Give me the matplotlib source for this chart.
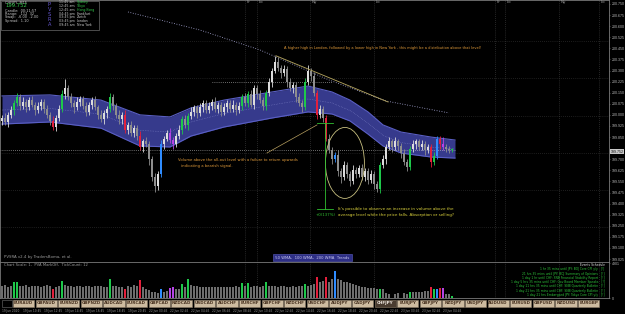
import matplotlib
matplotlib.use('Agg')
import matplotlib.pyplot as plt
from matplotlib.patches import Ellipse, Rectangle
import numpy as np

# ---------------- data ----------------
closes = [199.98, 199.95, 200.00, 200.03, 200.08, 200.12, 200.06, 200.09, 200.05, 200.10,
          200.07, 200.03, 200.06, 200.09, 200.04, 200.00, 199.96, 199.92, 199.98, 200.04,
          200.14, 200.18, 200.12, 200.08, 200.05, 200.09, 200.11, 200.06, 200.02, 200.07,
          200.10, 200.05, 200.00, 199.97, 200.01, 200.04, 200.12, 200.06, 200.00, 199.97,
          200.00, 199.90, 199.93, 199.88, 199.91, 199.86, 199.78, 199.82, 199.80, 199.70,
          199.58, 199.52, 199.60, 199.80, 199.84, 199.88, 199.83, 199.80, 199.86, 199.90,
          199.97, 199.93, 199.99, 200.02, 200.05, 200.01, 200.05, 200.08, 200.03, 200.06,
          200.09, 200.04, 200.07, 200.02, 200.05, 200.08, 200.04, 200.07, 200.03, 200.06,
          200.12, 200.08, 200.14, 200.07, 200.18, 200.14, 200.10, 200.06, 200.15, 200.22,
          200.30, 200.36, 200.32, 200.28, 200.31, 200.22, 200.18, 200.20, 200.12, 200.08,
          200.05, 200.22, 200.30, 200.26, 200.15, 200.00, 200.04, 199.98, 199.84, 199.76,
          199.70, 199.73, 199.62, 199.58, 199.66, 199.60, 199.55, 199.63, 199.60, 199.64,
          199.58, 199.62, 199.56, 199.60, 199.53, 199.50, 199.66, 199.70, 199.78, 199.82,
          199.78, 199.82, 199.79, 199.74, 199.68, 199.65, 199.77, 199.80, 199.82, 199.78,
          199.80, 199.76, 199.78, 199.68, 199.72, 199.84, 199.80, 199.78, 199.77, 199.76,
          199.765]
first_open = 199.96
upper_wick = [.02, .03, .02, .03, .02, .03, .02, .03, .02, .02,
              .03, .02, .03, .02, .02, .03, .02, .03, .02, .03,
              .03, .06, .02, .03, .02, .03, .02, .02, .03, .02,
              .02, .03, .02, .03, .02, .02, .03, .02, .02, .03,
              .02, .03, .02, .03, .02, .02, .03, .02, .03, .02,
              .02, .03, .02, .03, .02, .02, .03, .02, .02, .03,
              .02, .03, .02, .03, .02, .02, .03, .02, .02, .03,
              .02, .03, .02, .02, .03, .02, .02, .03, .02, .03,
              .02, .03, .02, .03, .02, .02, .03, .02, .02, .03,
              .02, .04, .03, .02, .03, .02, .03, .02, .02, .03,
              .02, .03, .04, .02, .03, .02, .03, .02, .02, .03,
              .02, .02, .03, .02, .03, .02, .02, .03, .02, .02,
              .03, .02, .02, .03, .02, .02, .02, .03, .02, .03,
              .02, .03, .02, .02, .03, .02, .02, .03, .02, .02,
              .03, .02, .02, .02, .03, .02, .02, .05, .02, .02,
              .01]
lower_wick = [.03, .02, .03, .02, .03, .02, .03, .02, .03, .02,
              .02, .03, .02, .03, .03, .02, .03, .02, .03, .02,
              .02, .03, .02, .03, .04, .02, .03, .02, .03, .02,
              .03, .02, .03, .02, .03, .03, .02, .03, .02, .03,
              .03, .02, .03, .02, .03, .03, .02, .03, .02, .04,
              .03, .04, .03, .02, .03, .02, .02, .03, .02, .02,
              .03, .02, .03, .02, .03, .03, .02, .03, .02, .02,
              .03, .02, .03, .03, .02, .03, .02, .02, .03, .02,
              .03, .02, .03, .02, .03, .03, .02, .03, .03, .02,
              .03, .02, .02, .03, .02, .03, .02, .03, .03, .02,
              .03, .02, .02, .03, .02, .03, .02, .03, .02, .02,
              .03, .02, .03, .04, .02, .03, .03, .02, .03, .02,
              .02, .03, .03, .02, .03, .02, .03, .02, .03, .02,
              .03, .02, .03, .03, .02, .03, .02, .02, .03, .02,
              .02, .03, .02, .03, .02, .02, .03, .02, .02, .02,
              .01]
volumes = [1700, 1800, 1600, 1750, 2200, 2300, 1700, 1650, 1800, 1600,
           1700, 1750, 1650, 1600, 1700, 1800, 1650, 1300, 1600, 1700,
           2400, 1800, 1700, 1650, 1600, 1750, 1700, 1600, 1650, 1700,
           1600, 1700, 1750, 1650, 1600, 1550, 2600, 1700, 1650, 1600,
           1550, 1250, 1700, 1600, 1800, 1650, 2500, 1500, 1200, 1100,
           900, 800, 700, 1300, 900, 1000, 1400, 1550, 1200, 1300,
           1900, 1600, 2700, 1800, 1700, 1650, 1600, 1550, 1600, 1500,
           1550, 1600, 1500, 1550, 1600, 1500, 1550, 1600, 1650, 1600,
           2100, 1700, 2100, 1600, 1650, 1700, 1600, 1650, 2200, 1700,
           1650, 1750, 1600, 1700, 1650, 1600, 1550, 1700, 1600, 1650,
           1700, 2000, 1750, 1800, 1900, 3000, 2200, 2400, 2900, 2300,
           2600, 3800, 2700, 2500, 2300, 2200, 2100, 1900, 1800, 1700,
           1600, 1500, 1450, 1400, 1350, 1300, 1200, 1250, 700, 600,
           0, 500, 650, 0, 700, 600, 800, 900, 850, 800,
           900, 950, 1000, 1500, 1200, 1200, 1450, 1350, 600, 500,
           300]
# PVSRA class per candle: n normal, g/r climax, b/m rising volume
pvsra = list("nnnnggnnnn" "nnnnnnnrnn" "gnnnnnnnnn" "nnnnnngnnn" "nrnnnnrnnn"
             "nnnbnnmmnn" "gngnnnnnnn" "nnnnnnnnnn" "gngnnnnngn" "nnnnnnnnnn"
             "ngnnnrnnrn" "nbnnnnnnnn" "nnnnnngnnn" "nnnnnngnnn" "nnnrgbrmnn" "g")

band_idx = [0, 16, 33, 46, 56, 63, 74, 90, 102, 110, 116, 122, 127, 133, 143, 151]
band_upper = [200.128, 200.135, 200.100, 200.000, 199.986, 200.047, 200.100, 200.155,
              200.195, 200.155, 200.100, 200.020, 199.932, 199.884, 199.850, 199.830]
band_lower = [199.938, 199.952, 199.910, 199.790, 199.783, 199.857, 199.918, 199.979,
              200.020, 200.006, 199.959, 199.870, 199.790, 199.742, 199.715, 199.708]

ma_idx = [42, 66, 86, 109, 128, 149]
ma_vals = [200.696, 200.574, 200.439, 200.236, 200.094, 200.013]

price_ticks = [200.750, 200.675, 200.600, 200.525, 200.450, 200.375, 200.300, 200.225,
               200.150, 200.075, 200.000, 199.925, 199.850, 199.700, 199.625,
               199.550, 199.475, 199.400, 199.325, 199.250, 199.175, 199.100, 199.025]
grid_prices = [200.50, 200.25, 199.99, 199.74, 199.49, 199.24]
last_price = 199.752

symbols = ["EURAUD", "GBPAUD", "EURNZD", "GBPNZD", "AUDCAD", "EURCAD", "GBPCAD",
           "NZDCAD", "USDCAD", "AUDCHF", "EURCHF", "GBPCHF", "NZDCHF", "USDCHF",
           "AUDJPY", "CADJPY", "CHFJPY", "EURJPY", "GBPJPY", "NZDJPY", "USDJPY",
           "AUDUSD", "EURUSD", "GBPUSD", "NZDUSD", "EURGBP"]
active_symbol = "CHFJPY"

time_labels = ["19 Jun 2020", "19 Jun 10:45", "19 Jun 12:45", "19 Jun 14:45",
               "19 Jun 16:45", "19 Jun 18:45", "19 Jun 20:45", "22 Jun 00:45",
               "22 Jun 02:45", "22 Jun 04:45", "22 Jun 06:45", "22 Jun 08:45",
               "22 Jun 10:45", "22 Jun 12:45", "22 Jun 14:45", "22 Jun 16:45",
               "22 Jun 18:45", "22 Jun 20:45", "22 Jun 22:45", "23 Jun 00:45",
               "23 Jun 02:45", "23 Jun 04:45"]

sessions = ["Fr", "Lo", "Ny", "Lo", "Fr", "Lo", "Ny", "Lo"]
session_idx = [81, 85, 102.7, 124, 164.3, 167.7, 185.7, 199]

events = ["Events Schedule",
          "1 hr 35 mins until JPY: BOJ Core CPI y/y   [!]",
          "21 hrs 35 mins until JPY: BOJ Summary of Opinions   [!]",
          "1 day 1 hr until CHF: SNB Financial Stability Report   [!]",
          "1 day 5 hrs 35 mins until CHF: Gov Board Member Speaks   [!]",
          "1 day 11 hrs 35 mins until CHF: SNB Quarterly Bulletin   [!]",
          "1 day 21 hrs 35 mins until CHF: SNB Quarterly Bulletin   [!]",
          "1 day 21 hrs Embargoed JPY: Tokyo Core CPI y/y   [!]"]

info_left = ["CHFJPY, M15", "199.752", "Candle:  00:11:57", "Range:   112  32",
             "Swap:  -6.00  -2.00", "Spread:  1.10"]
info_times = ["11:45 am", "12:45 am", "12:45 am", "04:45 pm", "03:45 pm", "03:45 pm", "09:45 am"]
info_cities = ["Sydney", "Tokyo", "Hong Kong", "Frankfurt", "Zurich", "London", "New York"]

# ---------------- layout ----------------
W, H = 625, 314
BG = '#000000'
AXF = 'Liberation Sans'
fig = plt.figure(figsize=(W / 100, H / 100), dpi=100, facecolor=BG)


def rect(x0, y0, x1, y1):
    return [x0 / W, 1 - y1 / H, (x1 - x0) / W, (y1 - y0) / H]


ax = fig.add_axes(rect(0, 0, 609, 262))
axv = fig.add_axes(rect(0, 262, 609, 298))
for a in (ax, axv):
    a.set_facecolor(BG)
    for s in a.spines.values():
        s.set_color('#7a7a7a')
        s.set_linewidth(0.6)

n = len(closes)
X0, X1 = -0.667, 202.33
YLO, YHI = 199.005, 200.777
ax.set_xlim(X0, X1)
axv.set_xlim(X0, X1)
ax.set_ylim(YLO, YHI)
axv.set_ylim(0, 4901 * 1.03)

COL = {'g': '#1ec84a', 'r': '#e3203c', 'b': '#2f8cff', 'm': '#b543e6'}

# grid
for gp in grid_prices:
    ax.axhline(gp, color='#3a3a3a', lw=0.5, ls=(0, (1, 2)), zorder=0)
for si in session_idx:
    ax.axvline(si, color='#4a4a4a', lw=0.5, ls=(0, (1, 2)), zorder=0)
    axv.axvline(si, color='#4a4a4a', lw=0.5, ls=(0, (1, 2)), zorder=0)
for s, si in zip(sessions, session_idx):
    ax.text(si + 0.6, YHI - 0.002, s, color='#9a9a9a', fontsize=3.0, va='top', ha='left')

# band
ax.fill_between(band_idx, band_lower, band_upper, color='#363a8c', lw=0, zorder=1)
ax.plot(band_idx, band_upper, color='#5a5fc4', lw=0.8, zorder=1.2)
ax.plot(band_idx, band_lower, color='#5a5fc4', lw=0.8, zorder=1.2)
mid = [(u + l) / 2 for u, l in zip(band_upper, band_lower)]
ax.plot(band_idx, mid, color='#8a8ed0', lw=0.4, ls=(0, (1, 2)), zorder=1.3)

# long MA
ax.plot(ma_idx, ma_vals, color='#b0b0e0', lw=0.6, ls=(0, (1, 2)), zorder=2)

# last price dotted line and previous-high dotted line
ax.plot([X0, n], [last_price + 0.01, last_price + 0.01], color='#d0d0d0', lw=0.5,
        ls=(0, (1, 2)), zorder=2)
ax.plot([70, 110], [200.222, 200.222], color='#d0d0d0', lw=0.5, ls=(0, (1, 2)), zorder=2)

# candles
opens = [first_open] + closes[:-1]
for i in range(n):
    o, c = opens[i], closes[i]
    hi = max(o, c) + upper_wick[i]
    lo = min(o, c) - lower_wick[i]
    k = pvsra[i]
    if k == 'n':
        col = '#dcdcdc' if c >= o else '#8e8e8e'
    else:
        col = COL[k]
    ax.vlines(i, lo, hi, color=col, lw=0.6, zorder=3)
    b0, b1 = min(o, c), max(o, c)
    if b1 - b0 < 0.006:
        b1 = b0 + 0.006
    ax.add_patch(Rectangle((i - 0.28, b0), 0.56, b1 - b0, facecolor=col, edgecolor='none', zorder=3.1))

# volume bars
vcols = ['#6e6e6e' if k == 'n' else COL[k] for k in pvsra]
axv.bar(range(n), volumes, width=0.55, color=vcols, zorder=2)

# trendline from high
ax.plot([91.3, 128.7], [200.400, 200.087], color='#b8a860', lw=0.6, zorder=4)
# arrow line
ax.plot([88.3, 105.0], [199.742, 199.932], color='#b8a060', lw=0.5, zorder=4)
# ellipse
ax.add_patch(Ellipse((114.3, 199.675), 13.0, 0.48, fill=False, edgecolor='#c8c080', lw=0.6, zorder=4))
# green measure
ax.plot([107.7, 107.7], [199.945, 199.364], color='#30c030', lw=0.6, zorder=4)
ax.plot([105.0, 110.3], [199.945, 199.945], color='#30c030', lw=0.6, zorder=4)
ax.plot([105.0, 110.3], [199.364, 199.364], color='#30c030', lw=0.6, zorder=4)
ax.text(107.7, 199.335, "+0(137%)", color='#30c030', fontsize=2.8, ha='center', va='top', zorder=5)

# annotations
ax.text(94, 200.455, "A higher high in London, followed by a lower high in New York - this might be a distribution above that level!",
        color='#e09a3a', fontsize=2.65, va='center', ha='left', zorder=5)
ax.text(58.7, 199.693, "Volume above the all-out level with a failure to return upwards",
        color='#e09a3a', fontsize=2.7, va='center', ha='left', zorder=5)
ax.text(59.5, 199.655, "indicating a bearish signal.",
        color='#e09a3a', fontsize=2.7, va='center', ha='left', zorder=5)
ax.text(112, 199.362, "It's possible to observe an increase in volume above the",
        color='#d8cf3c', fontsize=2.95, va='center', ha='left', zorder=5)
ax.text(112, 199.326, "average level while the price falls. Absorption or selling?",
        color='#d8cf3c', fontsize=2.95, va='center', ha='left', zorder=5)

ax.text(0.8, 199.04, "PVSRA v2.4 by TradersBoma, et al.", color='#9a9a9a', fontsize=2.8, va='center', zorder=5)
ax.text(90.8, 199.035, " 50 WMA,  100 WMA,  200 WMA  Trends ", color='#c8c8f0', fontsize=2.7, va='center',
        zorder=5, bbox=dict(boxstyle='square,pad=0.3', fc='#2e2f86', ec='#5a5ec0', lw=0.4))

# price axis
ax.yaxis.tick_right()
ax.set_yticks(price_ticks)
ax.set_yticklabels(['%.3f' % p for p in price_ticks], fontfamily=AXF)
ax.tick_params(axis='y', colors='#7a7a7a', labelcolor='#b8b8b8', labelsize=2.6, length=1.0, width=0.4, pad=0.8)
ax.set_xticks([])
ax.text(1.0025, (last_price - YLO) / (YHI - YLO), '%.3f' % last_price, fontfamily=AXF,
        transform=ax.transAxes, fontsize=2.6, color='#101010', va='center', ha='left',
        bbox=dict(boxstyle='square,pad=0.25', fc='#c8c8c8', ec='none'), zorder=6, clip_on=False)

axv.yaxis.tick_right()
axv.set_yticks([0, 4901])
axv.set_yticklabels(['0', '4901'], fontfamily=AXF)
axv.tick_params(axis='y', colors='#7a7a7a', labelcolor='#b8b8b8', labelsize=2.6, length=1.0, width=0.4, pad=0.8)
axv.set_xticks([])
axv.text(0.8, 4901 * 0.93, "Chart Scale: 1,  PVA MarkOff,  TickCount: 12", color='#9a9a9a', fontsize=2.7, va='center')

# events schedule
for j, e in enumerate(events):
    axv.text(0.993, 0.91 - j * 0.118, e, transform=axv.transAxes, ha='right', va='center',
             fontsize=2.15, color='#e8e8e8' if j == 0 else '#2ec43a')

# info box (top-left)
ax.add_patch(Rectangle((-0.2, YHI - 0.205), 32.5, 0.2, fill=False, edgecolor='#6a6a6a', lw=0.5, zorder=6))
iy = [200.760, 200.737, 200.705, 200.682, 200.659, 200.636]
for j, (t, yv) in enumerate(zip(info_left, iy)):
    ax.text(1.0, yv, t, color='#32c84a' if j == 1 else '#c8c8c8',
            fontsize=3.8 if j == 1 else 2.5, va='center', ha='left', zorder=7)
for j, ch in enumerate("PVSRA"):
    ax.text(15.8, 200.748 - j * 0.034, ch, color='#6a5ad8', fontsize=3.6, va='center', ha='center', zorder=7)
for j, (t, c) in enumerate(zip(info_times, info_cities)):
    yv = 200.762 - j * 0.0255
    ax.text(19.0, yv, t, color='#c8c8c8', fontsize=2.3, va='center', zorder=7)
    ax.text(25.0, yv, c, color='#32c84a' if j < 3 else '#c8c8c8', fontsize=2.3, va='center', zorder=7)

# symbol buttons and time labels
bx = fig.add_axes([0, 0, 1, 1], facecolor='none')
bx.set_xlim(0, W)
bx.set_ylim(H, 0)
bx.axis('off')
bx.add_patch(Rectangle((1.5, 299.5), 10.5, 7.5, facecolor='#000000', edgecolor='#5a5a5a', lw=0.5))
for k, s in enumerate(symbols):
    x0 = 13 + k * 22.6
    active = s == active_symbol
    bx.add_patch(Rectangle((x0, 299.5), 21.2, 7.5, facecolor='#4a3c30' if active else '#cdbba0',
                           edgecolor='#8a7a66', lw=0.4))
    bx.text(x0 + 10.6, 303.4, s, ha='center', va='center', fontsize=3.0, fontweight='bold',
            color='#f0e8e0' if active else '#4a3422')
for k, t in enumerate(time_labels):
    bx.text(2 + k * 21.0, 311.2, t, ha='left', va='center', fontsize=2.1, color='#9a9a9a')

fig.savefig('out.png', dpi=100, facecolor=BG)
